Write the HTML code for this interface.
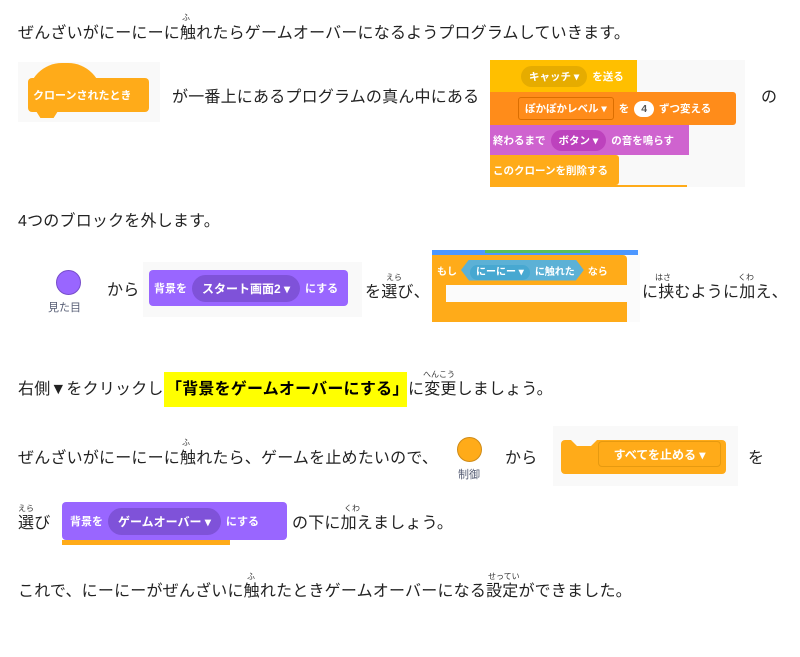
<!DOCTYPE html>
<html><head><meta charset="utf-8"><style>
body{margin:0;width:800px;height:657px;background:#fff;position:relative;overflow:hidden;font-family:"Liberation Sans","Noto Sans CJK JP",sans-serif;color:#222;}
.t{position:absolute;font-size:16px;white-space:nowrap;line-height:20px;letter-spacing:0.2px}
.r{position:absolute;font-size:8px;white-space:nowrap;color:#333}
.img{position:absolute;background:#f9f9f9}
.blk{position:absolute;color:#fff;font-size:10.5px;font-weight:bold;display:flex;align-items:center;box-sizing:border-box;white-space:nowrap}
.pill{border-radius:14px;padding:3px 8px;margin:0 5px;}
</style></head><body>
<div class="t" style="left:18px;top:24px">ぜんざいがにーにーに触れたらゲームオーバーになるようプログラムしていきます。</div>
<div class="r" style="left:182px;top:12px">ふ</div>

<div class="img" style="left:18px;top:62px;width:142px;height:60px"></div>
<div style="position:absolute;left:28px;top:63px;width:74px;height:34px;background:#ffab19;border-radius:37px 37px 0 0"></div>
<div class="blk" style="left:28px;top:78px;width:121px;height:34px;background:#ffab19;border-radius:4px;padding-left:5px;font-size:11px">クローンされたとき</div>
<div style="position:absolute;left:36px;top:111px;width:22px;height:7px;background:#ffab19;clip-path:polygon(0 0,100% 0,80% 100%,20% 100%)"></div>
<div class="t" style="left:172px;top:88px">が一番上にあるプログラムの真ん中にある</div>

<div class="img" style="left:490px;top:60px;width:255px;height:127px"></div>
<div class="blk" style="left:490px;top:60px;width:147px;height:32px;background:#ffbf00;padding-left:26px">
<span class="pill" style="background:#e6ac00">キャッチ ▾</span>を送る</div>
<div class="blk" style="left:490px;top:92px;width:246px;height:33px;background:#ff8c1a;padding-left:28px;border-radius:0 3px 3px 0">
<span style="border:1px solid #db6e00;padding:3px 6px;margin-right:5px;border-radius:3px">ぽかぽかレベル ▾</span>を<span style="background:#fff;color:#555;border-radius:10px;padding:2px 7px;margin:0 5px">4</span>ずつ変える</div>
<div class="blk" style="left:490px;top:125px;width:199px;height:30px;background:#cf63cf;padding-left:3px">終わるまで<span class="pill" style="background:#bd42bd">ボタン ▾</span>の音を鳴らす</div>
<div class="blk" style="left:490px;top:155px;width:129px;height:30px;background:#ffab19;padding-left:3px;border-radius:0 3px 3px 0">このクローンを削除する</div>
<div style="position:absolute;left:490px;top:185px;width:197px;height:2px;background:#ffab19"></div>
<div class="t" style="left:761px;top:88px">の</div>

<div class="t" style="left:18px;top:212px">4つのブロックを外します。</div>

<div style="position:absolute;left:56px;top:270px;width:25px;height:25px;border-radius:50%;background:#9966ff;border:1px solid #774dcb;box-sizing:border-box"></div>
<div style="position:absolute;left:48px;top:299px;font-size:11px;color:#575e75">見た目</div>
<div class="t" style="left:107px;top:281px">から</div>
<div class="img" style="left:143px;top:262px;width:219px;height:55px"></div>
<div class="blk" style="left:149px;top:270px;width:199px;height:36px;background:#9966ff;border-radius:4px;padding-left:5px;font-size:11px">背景を<span class="pill" style="background:#7f52d9;font-size:12px;padding:5px 10px">スタート画面2 ▾</span>にする</div>
<div class="t" style="left:365px;top:283px">を選び、</div>
<div class="r" style="left:386px;top:272px">えら</div>

<div class="img" style="left:432px;top:250px;width:208px;height:72px;background:#fbfbfb"></div>
<div style="position:absolute;left:432px;top:250px;width:206px;height:5px;background:#4c97ff"></div>
<div style="position:absolute;left:485px;top:250px;width:105px;height:3px;background:#59c059"></div>
<div class="blk" style="left:432px;top:255px;width:195px;height:30px;background:#ffab19;padding-left:5px;border-radius:0 4px 0 0;font-size:10px">もし<span style="background:#5cb1d6;padding:3px 9px;margin:0 4px;clip-path:polygon(8px 0,calc(100% - 8px) 0,100% 50%,calc(100% - 8px) 100%,8px 100%,0 50%)"><span style="background:#47a8d1;border-radius:10px;padding:2px 6px;margin-right:5px">にーにー ▾</span>に触れた</span>なら</div>
<div style="position:absolute;left:432px;top:285px;width:14px;height:17px;background:#ffab19"></div>
<div style="position:absolute;left:432px;top:302px;width:195px;height:20px;background:#ffab19"></div>
<div class="t" style="left:642px;top:283px">に挟むように加え、</div>
<div class="r" style="left:655px;top:272px">はさ</div>
<div class="r" style="left:738px;top:272px">くわ</div>

<div class="t" style="left:18px;top:380px">右側▼をクリックし</div>
<div style="position:absolute;left:164px;top:372px;width:243px;height:35px;background:#ffff00"></div>
<div class="t" style="left:166px;top:380px;font-weight:bold;color:#000">「背景をゲームオーバーにする」</div>
<div class="t" style="left:408px;top:380px">に変更しましょう。</div>
<div class="r" style="left:423px;top:369px">へんこう</div>

<div class="t" style="left:18px;top:449px">ぜんざいがにーにーに触れたら、ゲームを止めたいので、</div>
<div class="r" style="left:182px;top:437px">ふ</div>
<div style="position:absolute;left:457px;top:437px;width:25px;height:25px;border-radius:50%;background:#ffab19;border:1px solid #cf8b17;box-sizing:border-box"></div>
<div style="position:absolute;left:458px;top:466px;font-size:11px;color:#575e75">制御</div>
<div class="t" style="left:505px;top:449px">から</div>
<div class="img" style="left:553px;top:426px;width:185px;height:60px"></div>
<div style="position:absolute;left:561px;top:440px;width:165px;height:34px;background:#ffab19;border-radius:4px;clip-path:polygon(0 0,10px 0,16px 6px,30px 6px,36px 0,100% 0,100% 100%,0 100%)"></div>
<div class="blk" style="left:598px;top:441px;width:123px;height:26px;border:1px solid #e69a10;border-radius:4px;justify-content:center;font-size:12px">すべてを止める ▾</div>
<div class="t" style="left:748px;top:449px">を</div>

<div class="t" style="left:18px;top:514px">選び</div>
<div class="r" style="left:18px;top:503px">えら</div>
<div style="position:absolute;left:62px;top:540px;width:168px;height:5px;background:#ffab19"></div>
<div class="blk" style="left:62px;top:502px;width:225px;height:38px;background:#9966ff;border-radius:4px;padding-left:8px;font-size:11px">背景を<span class="pill" style="background:#7f52d9;font-size:12px;padding:5px 10px">ゲームオーバー ▾</span>にする</div>
<div class="t" style="left:292px;top:514px">の下に加えましょう。</div>
<div class="r" style="left:344px;top:503px">くわ</div>

<div class="t" style="left:18px;top:582px">これで、にーにーがぜんざいに触れたときゲームオーバーになる設定ができました。</div>
<div class="r" style="left:247px;top:571px">ふ</div>
<div class="r" style="left:488px;top:571px">せってい</div>
</body></html>
